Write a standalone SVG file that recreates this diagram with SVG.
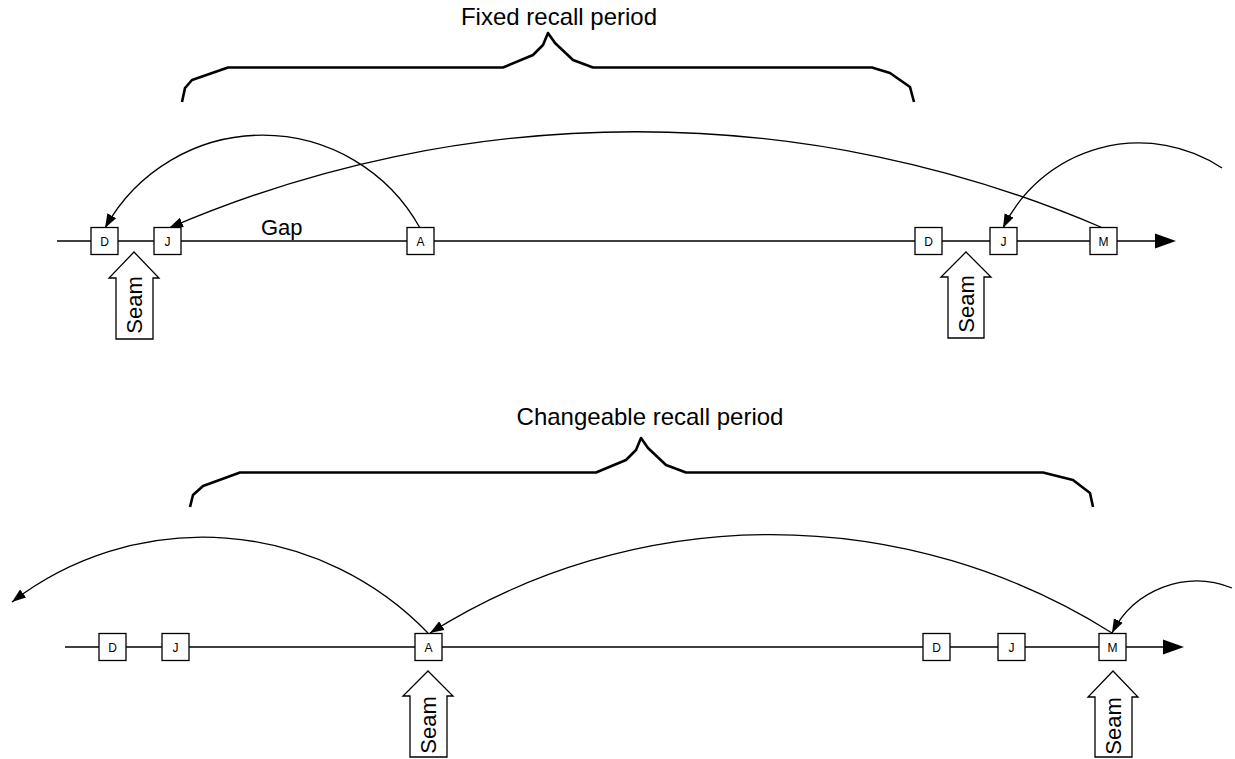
<svg xmlns="http://www.w3.org/2000/svg" width="1235" height="759" viewBox="0 0 1235 759">
<style>
  .bg{fill:#fff}
  .tl{stroke:#000;stroke-width:1.3;fill:none}
  .box{fill:#fff;stroke:#000;stroke-width:1.3}
  .lbl{font-family:"Liberation Sans",Arial,sans-serif;font-size:12px;fill:#000;text-anchor:middle}
  .big{font-family:"Liberation Sans",Arial,sans-serif;font-size:24px;fill:#000;text-anchor:middle}
  .gap{font-family:"Liberation Sans",Arial,sans-serif;font-size:22px;fill:#000}
  .seamtxt{font-family:"Liberation Sans",Arial,sans-serif;font-size:22px;fill:#000;text-anchor:middle}
  .brace{stroke:#000;stroke-width:2.6;fill:none;stroke-linejoin:round}
  .arc{stroke:#000;stroke-width:1.3;fill:none;marker-end:url(#ah)}
  .seam{fill:#fff;stroke:#000;stroke-width:1.3}
</style>
<defs>
  <marker id="ah" markerWidth="15" markerHeight="11" refX="14" refY="5.5" orient="auto" markerUnits="userSpaceOnUse">
    <path d="M0,0.5 L14,5.5 L0,10.5 z" fill="#000"/>
  </marker>
</defs>
<rect class="bg" x="0" y="0" width="1235" height="759"/>

<!-- Top section -->
<g id="title-fixed">
  <text class="big" x="559" y="25">Fixed recall period</text>
  <path class="brace" d="M182,102 L185,88 L192,80 L228,67.5 L503,67.5 L533,55 L543,45 L548,33 L555,43 L573,60 L593,67.5 L872,67.5 L890,73 L910,87 L914,102"/>
</g>

<g id="timeline-top">
  <line class="tl" x1="57" y1="241" x2="1160" y2="241"/>
  <polygon points="1155,233.5 1176,241 1155,248.5" fill="#000"/>
</g>

<g id="connectors">
  <path class="arc" d="M420,228 A180,180 0 0 0 105,228"/>
  <path class="arc" d="M1103,228 A1181,1181 0 0 0 169,228"/>
  <path class="arc" d="M1222,168 A151,151 0 0 0 1003,228"/>
  <path class="arc" d="M428,633 A313,313 0 0 0 12,602"/>
  <path class="arc" d="M1112,633 A640,640 0 0 0 430,633"/>
  <path class="arc" d="M1232,588 A95,95 0 0 0 1112,633"/>
</g>

<g id="t-D1"><rect class="box" x="91" y="227.5" width="27" height="27"/><text class="lbl" x="104.5" y="245.5">D</text></g>
<g id="t-J1"><rect class="box" x="154" y="227.5" width="27" height="27"/><text class="lbl" x="167.5" y="245.5">J</text></g>
<g id="t-A"><rect class="box" x="407" y="227.5" width="27" height="27"/><text class="lbl" x="420.5" y="245.5">A</text></g>
<g id="t-D2"><rect class="box" x="915" y="227.5" width="27" height="27"/><text class="lbl" x="928.5" y="245.5">D</text></g>
<g id="t-J2"><rect class="box" x="990" y="227.5" width="27" height="27"/><text class="lbl" x="1003.5" y="245.5">J</text></g>
<g id="t-M"><rect class="box" x="1090" y="227.5" width="27" height="27"/><text class="lbl" x="1103.5" y="245.5">M</text></g>

<g id="gap-label"><text class="gap" x="261" y="235">Gap</text></g>

<g id="seam-top-left">
  <polygon class="seam" points="134,252 159,278 153,278 153,339 116,339 116,278 109,278"/>
  <text class="seamtxt" transform="translate(142,305) rotate(-90)">Seam</text>
</g>
<g id="seam-top-right">
  <polygon class="seam" points="966,252 991,277 984,277 984,338 948,338 948,277 941,277"/>
  <text class="seamtxt" transform="translate(974,304) rotate(-90)">Seam</text>
</g>

<!-- Bottom section -->
<g id="title-changeable">
  <text class="big" x="650" y="425">Changeable recall period</text>
  <path class="brace" d="M190,507 L193,495 L203,486 L240,472.5 L596,472.5 L626,460 L636,450 L641,438 L648,448 L666,465 L686,472.5 L1043,472.5 L1073,480 L1090,493 L1093,507"/>
</g>

<g id="timeline-bottom">
  <line class="tl" x1="65" y1="647" x2="1168" y2="647"/>
  <polygon points="1163,639.5 1184,647 1163,654.5" fill="#000"/>
</g>

<g id="b-D1"><rect class="box" x="99" y="633.5" width="27" height="27"/><text class="lbl" x="112.5" y="651.5">D</text></g>
<g id="b-J1"><rect class="box" x="162" y="633.5" width="27" height="27"/><text class="lbl" x="175.5" y="651.5">J</text></g>
<g id="b-A"><rect class="box" x="415" y="633.5" width="27" height="27"/><text class="lbl" x="428.5" y="651.5">A</text></g>
<g id="b-D2"><rect class="box" x="923" y="633.5" width="27" height="27"/><text class="lbl" x="936.5" y="651.5">D</text></g>
<g id="b-J2"><rect class="box" x="998" y="633.5" width="27" height="27"/><text class="lbl" x="1011.5" y="651.5">J</text></g>
<g id="b-M"><rect class="box" x="1099" y="633.5" width="27" height="27"/><text class="lbl" x="1112.5" y="651.5">M</text></g>

<g id="seam-bottom-A">
  <polygon class="seam" points="428,671 453,696 447,696 447,757 410,757 410,696 403,696"/>
  <text class="seamtxt" transform="translate(436,725) rotate(-90)">Seam</text>
</g>
<g id="seam-bottom-M">
  <polygon class="seam" points="1113,671 1138,697 1132,697 1132,757 1095,757 1095,697 1088,697"/>
  <text class="seamtxt" transform="translate(1121,726) rotate(-90)">Seam</text>
</g>
</svg>
